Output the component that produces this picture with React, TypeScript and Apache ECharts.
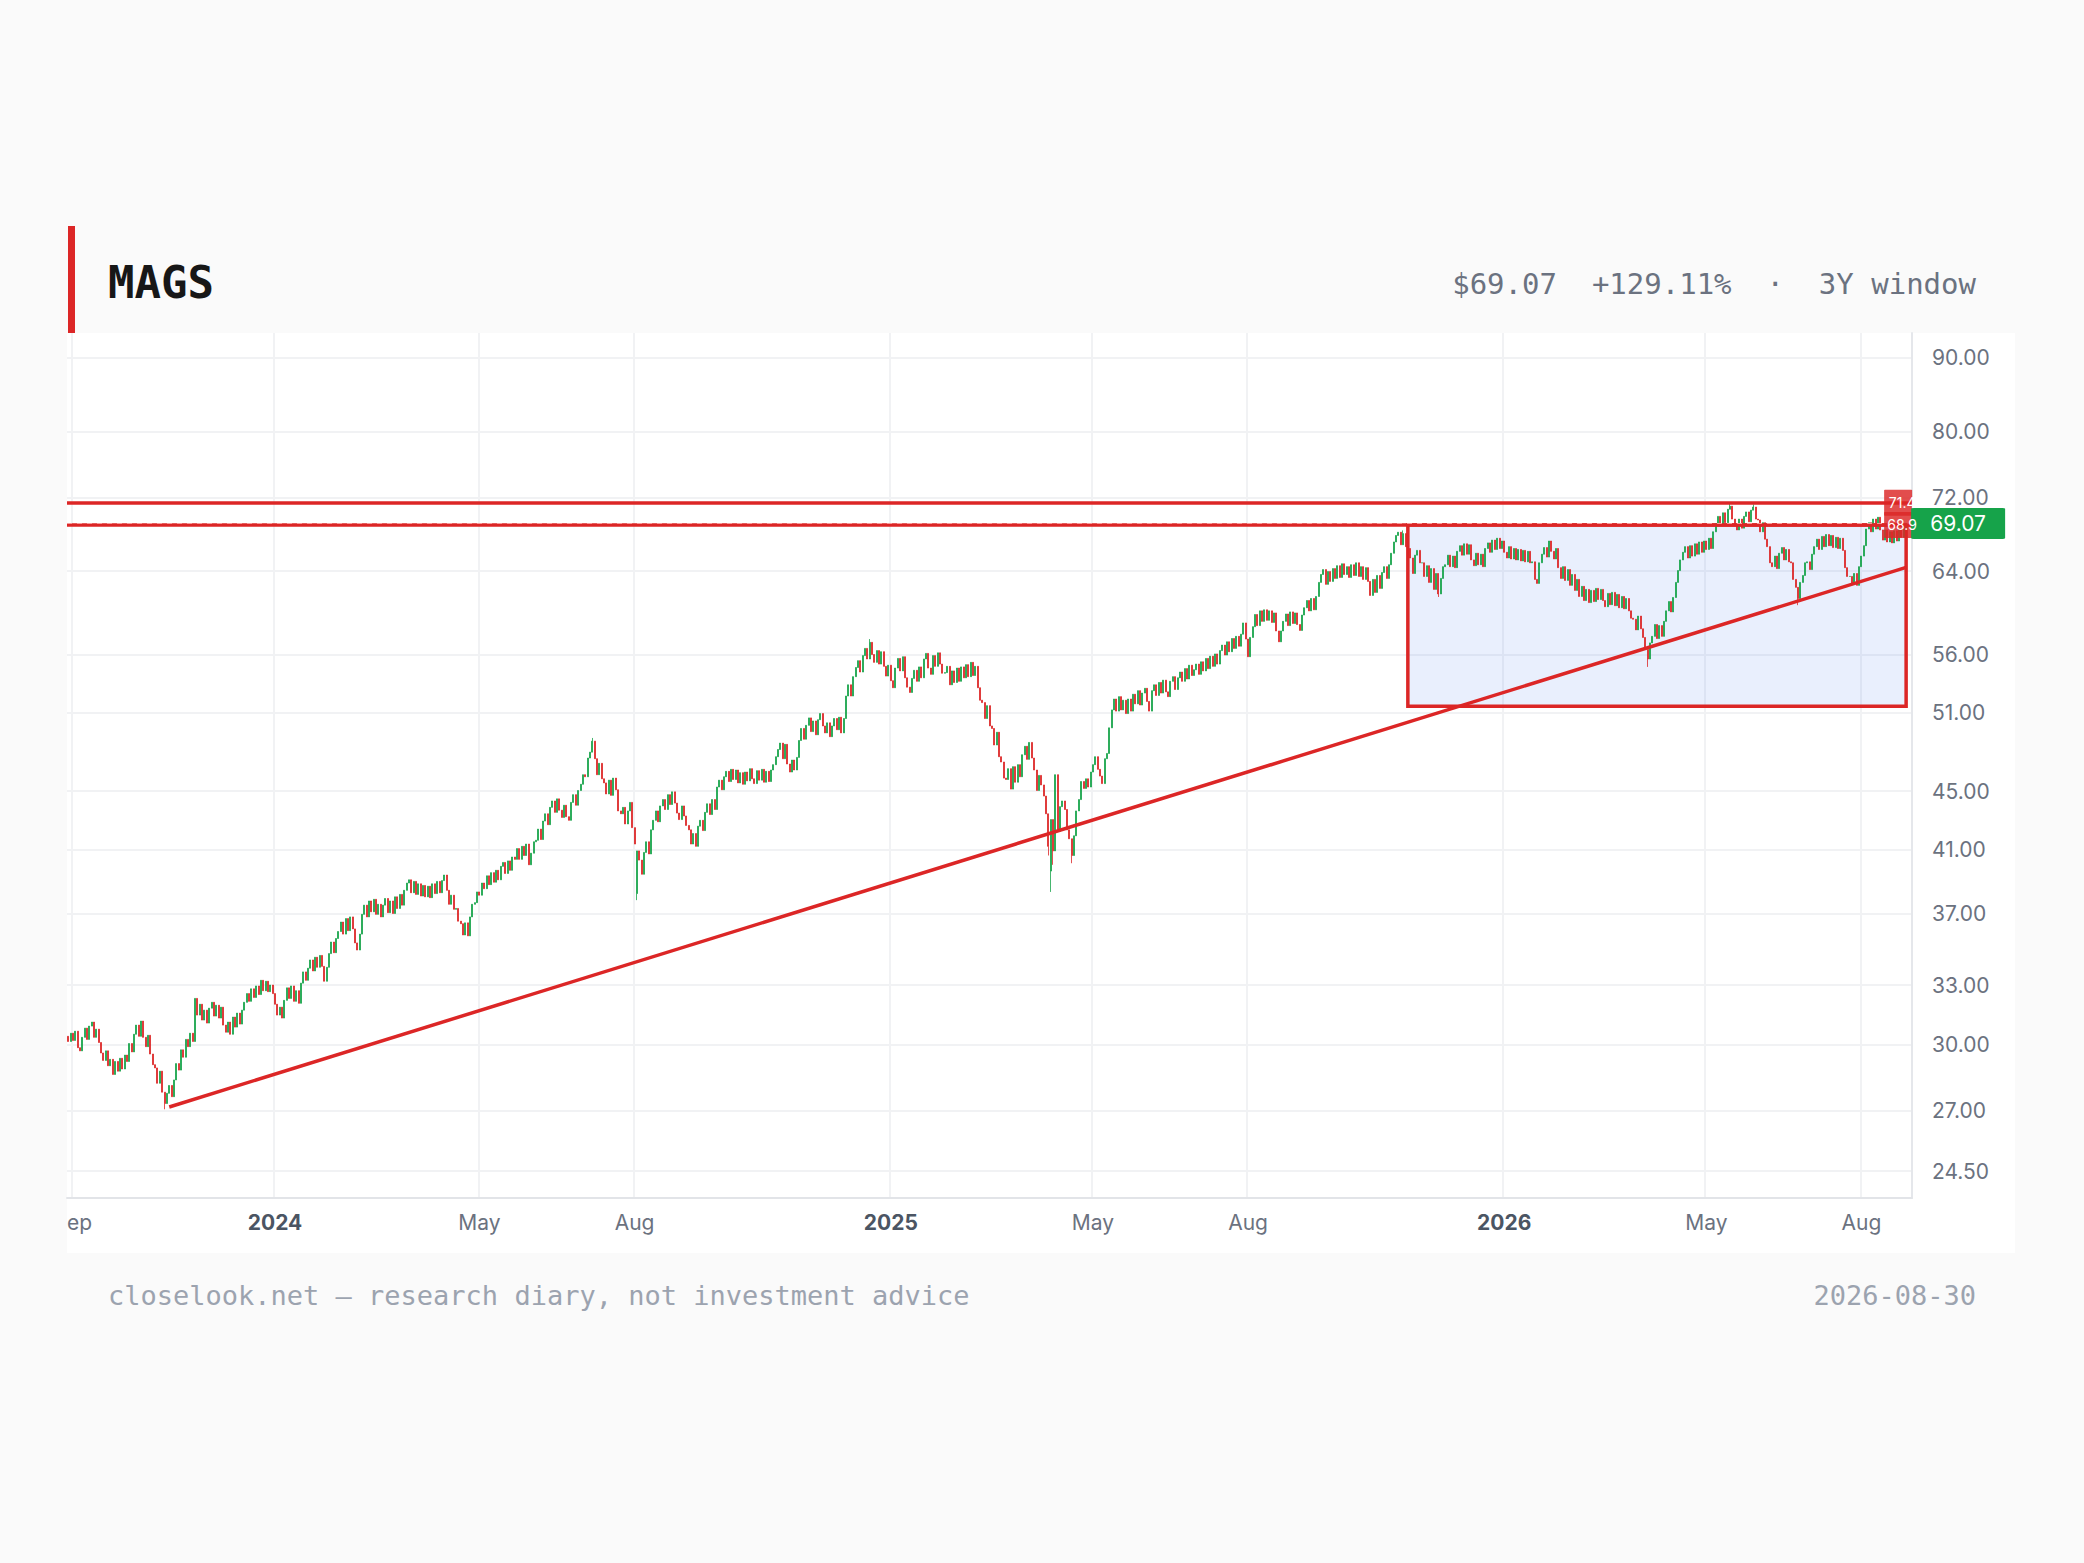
import React, { useEffect, useRef } from "react";
import * as echarts from "echarts";

// ---------- DATA (daily closes, weekdays starting 2023-08-30) ----------
const close2023 = [
  30.15, 30.55,
  30.20, 30.65, 29.85, 29.70, 30.35, 30.80, 30.25, 30.90, 31.10, 30.35, 30.75, 30.10, 29.60, 29.25, 29.70, 29.00, 29.30, 28.60, 29.20, 28.75, 29.35,
  28.85, 29.50, 29.20, 30.05, 29.65, 30.50, 30.95, 30.40, 31.15, 30.35, 29.90, 30.45, 29.55, 29.05, 28.90, 28.20, 28.75, 27.80, 27.30, 27.75, 28.10, 27.60,
  28.35, 29.10, 28.80, 29.75, 29.40, 30.25, 29.90, 30.55, 30.15, 32.30, 31.45, 32.00, 31.20, 31.70, 31.05, 31.80, 32.10, 31.40, 31.95, 31.30, 31.85, 30.95,
  30.60, 31.10, 30.50, 31.35, 30.85, 31.55, 31.00, 31.70, 32.10, 32.55, 32.15, 32.80, 32.35, 32.95, 32.50, 33.25, 32.70, 33.20, 32.65, 33.00, 32.55,
];
const close2024 = [
  32.00, 31.45, 31.85, 31.30, 32.20, 32.85, 32.30, 32.95, 32.15, 32.70, 32.05, 33.10, 33.70, 33.25, 33.90, 34.35, 33.75, 34.50, 33.95, 34.60, 34.00, 33.20, 33.95,
  34.70, 35.35, 34.75, 35.55, 35.95, 36.50, 35.80, 36.70, 36.00, 36.80, 36.10, 35.30, 34.90, 35.80, 36.95, 37.50, 36.80, 37.75, 37.10, 37.85, 36.95,
  37.55, 36.80, 37.50, 37.90, 37.05, 37.75, 37.00, 38.00, 37.30, 38.15, 37.50, 38.40, 38.85, 39.05, 38.25, 38.95, 38.15, 38.80, 38.05, 38.70, 38.00,
  38.65, 37.95, 38.80, 38.20, 38.95, 38.25, 39.00, 39.35, 38.40, 37.55, 38.10, 37.25, 37.30, 36.55, 36.40, 35.75, 36.45, 35.70, 36.80, 37.55, 37.65, 38.30,
  38.10, 38.85, 38.50, 39.30, 38.75, 39.50, 38.90, 39.65, 39.05, 39.90, 40.15, 39.45, 40.25, 39.65, 40.50, 40.35, 41.05, 40.35, 41.20, 40.60, 41.35, 40.00, 40.75,
  41.50, 41.60, 42.35, 41.65, 42.90, 43.40, 42.65, 43.85, 44.30, 43.50, 44.45, 43.65, 43.15, 44.00, 43.20, 42.95, 44.20, 44.75, 44.00, 45.05,
  45.50, 46.20, 46.05, 47.45, 47.90, 48.75, 47.40, 46.20, 47.05, 45.90, 45.60, 44.80, 45.80, 44.70, 45.95, 45.10, 43.60, 43.40, 43.85, 42.70, 43.60, 44.20, 42.45,
  41.35, 40.90, 40.30, 39.40, 40.80, 41.50, 40.70, 42.30, 42.95, 43.60, 42.85, 43.95, 44.40, 43.70, 44.75, 44.05, 44.95, 44.15, 43.45, 43.00, 43.95, 43.25,
  42.60, 42.30, 41.35, 42.05, 41.20, 42.55, 42.95, 42.25, 43.50, 44.10, 43.35, 44.40, 43.70, 45.30, 45.80, 45.10, 46.05, 46.45, 45.70, 46.60, 45.85,
  46.55, 45.60, 46.35, 45.50, 46.40, 45.75, 46.65, 45.90, 45.55, 46.50, 45.80, 46.60, 45.65, 46.45, 45.70, 46.55, 46.95, 47.55, 48.10, 48.60, 47.40, 48.50, 47.00,
  46.40, 47.30, 46.55, 47.50, 48.80, 49.75, 48.90, 50.00, 50.60, 49.50, 50.35, 49.25, 50.45, 50.95, 49.95, 49.40, 50.20, 49.10, 49.95, 50.55, 49.65,
  50.65, 49.40, 50.55, 52.40, 53.35, 52.40, 54.05, 54.85, 55.45, 54.45, 55.90, 56.55, 55.60, 57.10, 56.00, 55.30, 56.35, 55.15, 56.25, 54.95, 54.10, 55.05,
];
const close2025 = [
  53.70, 53.10, 54.80, 55.65, 54.55, 55.80, 53.95, 53.15, 52.70, 53.90, 54.60, 53.65, 54.90, 53.95, 55.60, 56.10, 54.80, 54.25, 55.90, 54.95, 56.15, 55.15, 54.35,
  54.40, 54.95, 53.35, 54.55, 53.55, 54.80, 53.65, 54.90, 53.95, 55.10, 54.05, 55.30, 54.15, 54.95, 53.10, 52.05, 51.85, 50.55, 51.60, 49.95,
  49.75, 48.45, 49.45, 47.55, 47.15, 45.95, 45.85, 46.65, 45.15, 46.80, 45.65, 46.95, 46.05, 47.70, 48.35, 47.35, 48.65, 47.45, 46.55, 45.05, 46.15,
  45.45, 44.65, 43.40, 41.20, 43.00, 40.90, 46.20, 42.20, 43.90, 44.30, 43.70, 42.30, 41.70, 40.60, 41.90, 43.60, 44.40, 45.70, 45.20, 45.90, 45.30, 46.40,
  46.95, 47.55, 46.60, 46.10, 45.55, 47.40, 47.80, 49.80, 51.25, 52.15, 51.15, 52.35, 51.25, 52.05, 50.95, 52.15, 51.15, 52.55, 51.75, 52.85, 51.65, 52.65,
  53.05, 51.95, 51.15, 52.85, 53.35, 52.45, 53.55, 52.65, 53.75, 52.75, 52.35, 53.65, 54.05, 52.95, 53.95, 54.45, 53.65, 54.75, 53.85, 55.05, 54.15,
  54.65, 55.15, 54.25, 55.35, 54.55, 55.65, 54.75, 55.85, 54.95, 56.05, 55.15, 56.35, 56.85, 55.95, 57.15, 56.25, 57.45, 56.55, 57.65, 56.75, 57.85, 58.90, 57.40,
  55.80, 57.55, 58.55, 59.70, 58.65, 60.05, 59.05, 60.15, 59.15, 60.05, 58.95, 59.85, 58.15, 57.15, 58.15, 59.05, 59.75, 58.65, 59.95, 58.85, 59.85,
  58.75, 58.20, 59.65, 60.35, 61.05, 60.05, 61.25, 60.15, 61.45, 62.85, 63.65, 64.15, 62.65, 63.95, 62.95, 64.25, 63.25, 64.55, 63.35, 64.75, 63.65, 64.45,
  63.35, 64.65, 63.55, 64.85, 63.45, 64.45, 63.15, 64.35, 62.95, 61.55, 63.15, 61.85, 63.55, 62.25, 63.85, 64.45, 63.25, 64.65, 65.85, 67.05, 67.75, 68.10, 66.75,
  67.95, 66.55, 66.35, 65.35, 63.75, 65.65, 66.15, 64.85, 64.85, 63.45, 64.55, 62.85, 64.25, 62.15, 63.75, 61.70, 63.25, 64.45, 64.65, 65.65,
  64.45, 65.55, 64.35, 66.05, 66.65, 65.65, 66.85, 65.75, 66.75, 65.15, 64.55, 65.85, 64.65, 65.75, 64.45, 66.35, 66.95, 65.95, 67.25, 66.25, 67.45, 66.35, 67.15,
];
const close2026 = [
  65.95, 65.35, 66.55, 65.25, 66.35, 65.15, 66.25, 65.05, 66.15, 64.95, 66.05, 64.85, 64.95, 63.15, 62.75, 64.85, 65.75, 66.45, 65.45, 67.15, 66.05, 65.25,
  66.35, 64.35, 63.25, 64.45, 63.05, 64.15, 62.55, 63.65, 62.05, 63.15, 61.45, 62.45, 61.05, 62.15, 60.85, 62.05, 60.95, 62.25, 61.15, 62.15,
  61.05, 60.45, 61.75, 60.65, 61.85, 60.55, 61.65, 60.35, 61.45, 60.25, 61.25, 60.05, 59.35, 59.25, 58.25, 59.55, 58.35, 57.55, 56.45, 55.60, 57.05, 57.65,
  58.75, 57.45, 58.65, 57.65, 59.05, 60.05, 60.95, 59.95, 61.35, 62.85, 64.05, 65.15, 65.95, 66.55, 65.35, 66.65, 65.55, 66.85, 65.75, 67.05, 65.95, 67.15,
  66.25, 67.45, 66.35, 68.15, 69.05, 69.85, 68.85, 70.25, 69.15, 70.65, 71.00, 69.55, 68.95, 68.35, 69.55, 68.55, 69.85, 70.35, 69.25, 70.55, 70.90,
  69.55, 69.45, 68.15, 69.15, 67.35, 66.55, 64.85, 64.45, 65.55, 64.25, 65.85, 66.45, 65.15, 66.25, 64.95, 64.85, 63.15, 62.35, 61.25, 62.85, 63.55, 64.85,
  64.95, 64.15, 65.75, 66.55, 67.35, 66.25, 67.65, 66.55, 67.85, 66.65, 67.75, 66.45, 67.55, 66.35, 67.45, 66.15, 64.35, 63.45, 63.45, 62.65, 63.75, 62.55, 64.45,
  65.55, 66.65, 68.45, 69.15, 68.15, 69.55, 68.45, 69.75, 68.35, 67.25, 68.35, 67.05, 68.15, 66.95, 68.25, 67.15, 68.45, 67.55, 68.65, 69.07,
];
const firstOpen = 30.4;
// [candle index, open] for gap days
const gapOpens: [number, number][] = [[242, 38.2], [418, 39.6], [420, 40.9]];
// [candle index, low] / [candle index, high] visible wicks
const wickLows: [number, number][] = [[41, 27.05], [242, 37.8], [417, 40.6], [418, 38.3], [419, 40.0], [427, 40.1], [583, 61.4], [672, 54.9], [736, 60.6]];
const wickHighs: [number, number][] = [[223, 49.0], [341, 57.4], [568, 68.3], [707, 71.3], [717, 71.2]];

const startDate = "2023-08-30";
const padCandles = 2;

const priceTicks = [24.5, 27, 30, 33, 37, 41, 45, 51, 56, 64, 72, 80, 90];
const priceRange = [23.47, 93.67];
const timeTicks = [
  { date: "2023-09-01", label: "Sep", year: false },
  { date: "2024-01-01", label: "2024", year: true },
  { date: "2024-05-01", label: "May", year: false },
  { date: "2024-08-01", label: "Aug", year: false },
  { date: "2025-01-01", label: "2025", year: true },
  { date: "2025-05-01", label: "May", year: false },
  { date: "2025-08-01", label: "Aug", year: false },
  { date: "2026-01-01", label: "2026", year: true },
  { date: "2026-05-01", label: "May", year: false },
  { date: "2026-08-01", label: "Aug", year: false },
];
const levelLines = [71.4, 68.9];
const lastPrice = 69.07;
const trendFrom = { idx: 43, price: 27.15 };
const trendTo = { idx: 782, price: 64.37 };
const zoneBox = { fromIdx: 570, toIdx: 782, top: 68.9, bottom: 51.55 };

const headerTicker = "MAGS";
const headerStats = "$69.07  +129.11%  ·  3Y window";
const footerLeft = "closelook.net — research diary, not investment advice";
const footerRight = "2026-08-30";

// ---------- helpers ----------
function weekdays(start: string, n: number): string[] {
  const out: string[] = [];
  const d = new Date(start + "T00:00:00Z");
  while (out.length < n) {
    const wd = d.getUTCDay();
    if (wd !== 0 && wd !== 6) out.push(d.toISOString().slice(0, 10));
    d.setUTCDate(d.getUTCDate() + 1);
  }
  return out;
}

const RED = "#dc2626";
const GREEN = "#16a34a";
const MONO = "'DejaVu Sans Mono', 'Liberation Mono', monospace";
const SANS = "Inter, 'Noto Sans', sans-serif";
const BOX_PATH = "path://M3,0 H97 Q100,0 100,3 V97 Q100,100 97,100 H3 Q0,100 0,97 V3 Q0,0 3,0 Z";
const LINE_W = 3.5;

function buildOption() {
  const closes = [...close2023, ...close2024, ...close2025, ...close2026];
  const n = closes.length;
  const dates = weekdays(startDate, n + padCandles);
  const gapMap = new Map(gapOpens);
  const lowMap = new Map(wickLows);
  const highMap = new Map(wickHighs);
  const L = Math.log;

  const candles = closes.map((c, i) => {
    const o = gapMap.has(i) ? (gapMap.get(i) as number) : i === 0 ? firstOpen : closes[i - 1];
    let lo = Math.min(o, c);
    let hi = Math.max(o, c);
    if (lowMap.has(i)) lo = Math.min(lo, lowMap.get(i) as number);
    if (highMap.has(i)) hi = Math.max(hi, highMap.get(i) as number);
    return [L(o), L(c), L(lo), L(hi)];
  });

  const tickIdx = new Map<number, { label: string; year: boolean }>();
  timeTicks.forEach((t) => {
    const idx = dates.findIndex((d) => d >= t.date);
    if (idx >= 0) tickIdx.set(idx, { label: t.label, year: t.year });
  });
  const isTick = (index: number) => tickIdx.has(index);

  const lnTicks = priceTicks.map((p) => L(p));
  const lastIdx = n - 1;

  return {
    animation: false,
    backgroundColor: "#fafafa",
    textStyle: { fontFamily: SANS },
    grid: { left: 67, top: 333, right: 172, bottom: 365, containLabel: false, outerBoundsMode: "none" },
    xAxis: {
      type: "category",
      data: dates,
      boundaryGap: true,
      axisLine: { show: true, lineStyle: { color: "#e2e4e8", width: 2 } },
      axisTick: { show: false },
      axisLabel: {
        interval: (index: number) => isTick(index),
        formatter: (_v: string, index: number) => {
          const t = tickIdx.get(index);
          if (!t) return "";
          return t.year ? `{yr|${t.label}}` : t.label;
        },
        color: "#6b7280",
        fontSize: 21,
        fontFamily: SANS,
        margin: 14,
        rich: { yr: { fontWeight: "bold", color: "#4b5563", fontSize: 21, fontFamily: SANS } },
      },
      splitLine: {
        show: true,
        interval: (index: number) => isTick(index),
        lineStyle: { color: "#f1f2f4", width: 2 },
      },
    },
    yAxis: {
      type: "value",
      position: "right",
      min: L(priceRange[0]),
      max: L(priceRange[1]),
      axisLine: { show: true, lineStyle: { color: "#e5e7eb", width: 2 } },
      axisTick: { show: false, customValues: lnTicks },
      axisLabel: {
        customValues: lnTicks,
        formatter: (v: number) => Math.exp(v).toFixed(2),
        color: "#6b7280",
        fontSize: 21,
        fontFamily: SANS,
        margin: 20,
      },
      splitLine: { show: true, lineStyle: { color: "#f1f2f4", width: 2 } },
    },
    series: [
      {
        type: "candlestick",
        data: candles,
        large: false,
        barWidth: 1.5,
        itemStyle: { color: GREEN, color0: RED, borderColor: GREEN, borderColor0: RED, borderWidth: 0.8 },
        markArea: {
          silent: true,
          itemStyle: { color: "rgba(37,99,235,0.10)", borderColor: RED, borderWidth: LINE_W },
          data: [[
            { coord: [dates[zoneBox.fromIdx], L(zoneBox.top)] },
            { coord: [dates[zoneBox.toIdx], L(zoneBox.bottom)] },
          ]],
        },
        markLine: {
          silent: true,
          precision: 8,
          symbol: ["none", "none"],
          label: { show: false },
          data: [
            ...levelLines.map((p) => ({ yAxis: L(p), lineStyle: { color: RED, width: LINE_W, type: "solid" } })),
            [
              { coord: [dates[trendFrom.idx], L(trendFrom.price)], lineStyle: { color: RED, width: LINE_W, type: "solid" } },
              { coord: [dates[trendTo.idx], L(trendTo.price)] },
            ],
            { yAxis: L(lastPrice), lineStyle: { color: "rgba(245,160,160,0.95)", width: 1.2, type: [5, 5] } },
          ],
        },
        markPoint: {
          silent: true,
          data: [
            ...levelLines.map((p) => ({
              coord: [dates[lastIdx], L(p)],
              symbol: BOX_PATH,
              symbolSize: [28, 26],
              symbolOffset: [-8, 0],
              itemStyle: { color: "rgba(220,38,38,0.82)" },
              label: {
                show: true,
                position: "inside",
                formatter: String(p),
                color: "#ffffff",
                fontSize: 14,
                fontFamily: SANS,
                offset: [4, 0],
              },
            })),
            {
              coord: [dates[lastIdx], L(lastPrice)],
              symbol: BOX_PATH,
              symbolSize: [94, 31],
              symbolOffset: [52, 0],
              itemStyle: { color: GREEN },
              label: {
                show: true,
                position: "inside",
                formatter: lastPrice.toFixed(2),
                color: "#ffffff",
                fontSize: 21,
                fontFamily: SANS,
              },
            },
          ],
        },
      },
    ],
    graphic: [
      { type: "rect", z: -10, silent: true, shape: { x: 67, y: 333, width: 1948, height: 920 }, style: { fill: "#ffffff" } },
      { type: "rect", z: 100, silent: true, shape: { x: 0, y: 1200, width: 67, height: 52 }, style: { fill: "#fafafa" } },
      { type: "rect", silent: true, shape: { x: 68, y: 226, width: 7, height: 107 }, style: { fill: RED } },
      {
        type: "text", silent: true, x: 108, y: 282,
        style: { text: headerTicker, font: `bold 44px ${MONO}`, fill: "#171717", align: "left", verticalAlign: "middle", textAlign: "left", textVerticalAlign: "middle" },
      },
      {
        type: "text", silent: true, x: 1976, y: 284,
        style: { text: headerStats, font: `29px ${MONO}`, fill: "#6b7280", align: "right", verticalAlign: "middle", textAlign: "right", textVerticalAlign: "middle" },
      },
      {
        type: "text", silent: true, x: 108, y: 1295,
        style: { text: footerLeft, font: `27px ${MONO}`, fill: "#9ca3af", align: "left", verticalAlign: "middle", textAlign: "left", textVerticalAlign: "middle" },
      },
      {
        type: "text", silent: true, x: 1976, y: 1295,
        style: { text: footerRight, font: `27px ${MONO}`, fill: "#9ca3af", align: "right", verticalAlign: "middle", textAlign: "right", textVerticalAlign: "middle" },
      },
    ],
  };
}

export default function App() {
  const ref = useRef<HTMLDivElement>(null);
  useEffect(() => {
    if (!ref.current) return;
    const chart = echarts.init(ref.current, undefined, { renderer: "svg" });
    chart.setOption(buildOption() as any);
    return () => chart.dispose();
  }, []);
  return <div ref={ref} style={{ position: "absolute", left: 0, top: 0, width: 2084, height: 1563 }} />;
}
